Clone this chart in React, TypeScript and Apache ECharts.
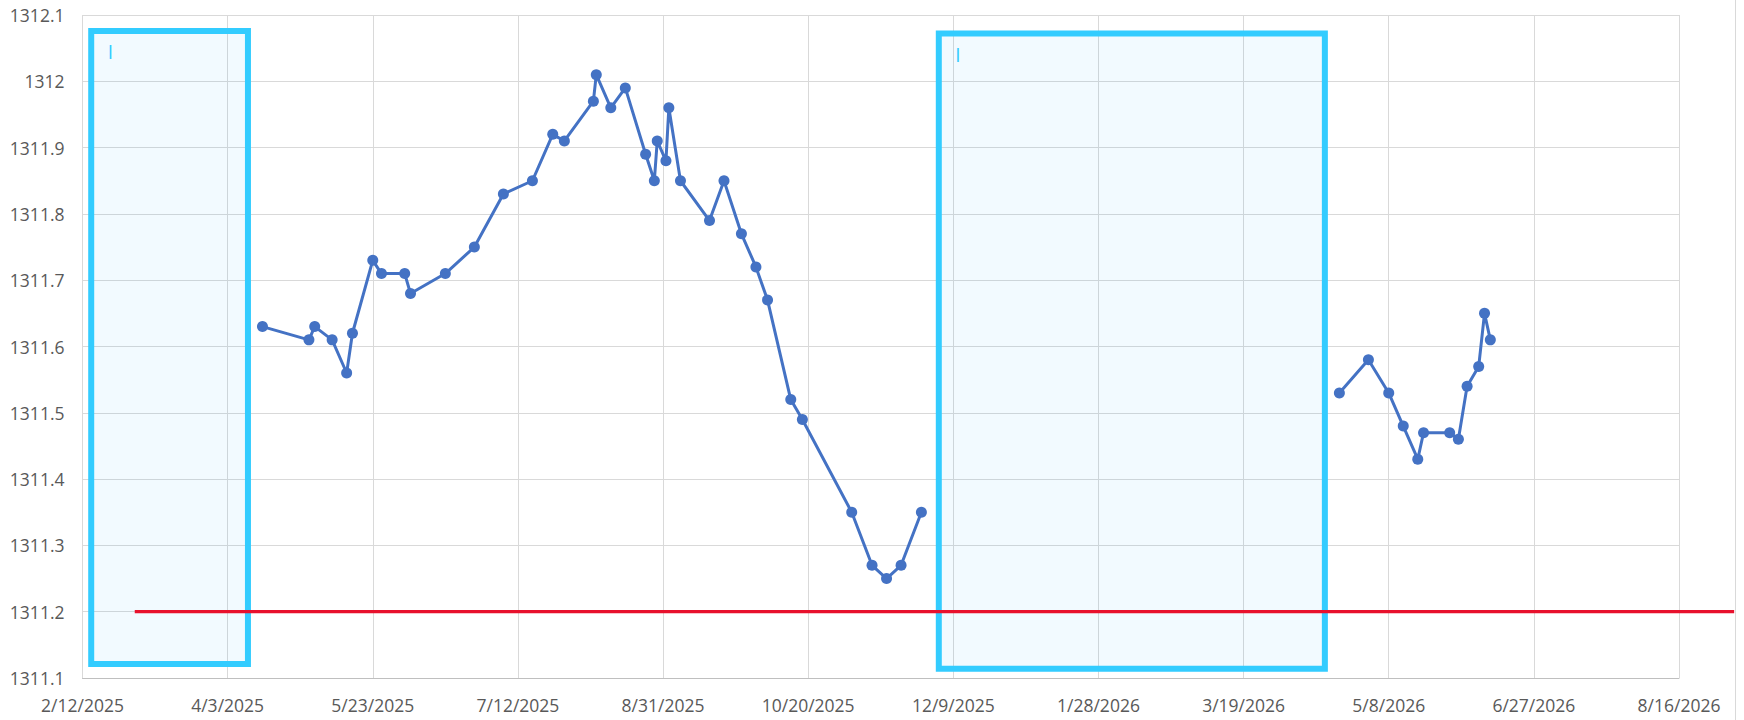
import React, { useEffect, useRef } from "react";
import * as echarts from "echarts";

// ---- axis definitions ----
const AXIS_START = "2025-02-12";
const X_TICK_DAYS = 50;
const X_SPAN_DAYS = 550;
const Y_MIN = 1311.1;
const Y_MAX = 1312.1;
const Y_STEP = 0.1;

// ---- measured series (null = gap) ----
const obsDates = [
  "2025-04-15", "2025-05-01", "2025-05-03", "2025-05-09", "2025-05-14", "2025-05-16",
  "2025-05-23", "2025-05-26", "2025-06-03", "2025-06-05", "2025-06-17", "2025-06-27",
  "2025-07-07", "2025-07-17", "2025-07-24", "2025-07-28", "2025-08-07", "2025-08-08",
  "2025-08-13", "2025-08-18", "2025-08-25", "2025-08-28", "2025-08-29", "2025-09-01",
  "2025-09-02", "2025-09-06", "2025-09-16", "2025-09-21", "2025-09-27", "2025-10-02",
  "2025-10-06", "2025-10-14", "2025-10-18", "2025-11-04", "2025-11-11", "2025-11-16",
  "2025-11-21", "2025-11-28",
  "2026-01-15",
  "2026-04-21", "2026-05-01", "2026-05-08", "2026-05-13", "2026-05-18", "2026-05-20",
  "2026-05-29", "2026-06-01", "2026-06-04", "2026-06-08", "2026-06-10", "2026-06-12",
];
const obsValues: (number | null)[] = [
  1311.63, 1311.61, 1311.63, 1311.61, 1311.56, 1311.62,
  1311.73, 1311.71, 1311.71, 1311.68, 1311.71, 1311.75,
  1311.83, 1311.85, 1311.92, 1311.91, 1311.97, 1312.01,
  1311.96, 1311.99, 1311.89, 1311.85, 1311.91, 1311.88,
  1311.96, 1311.85, 1311.79, 1311.85, 1311.77, 1311.72,
  1311.67, 1311.52, 1311.49, 1311.35, 1311.27, 1311.25,
  1311.27, 1311.35,
  null,
  1311.53, 1311.58, 1311.53, 1311.48, 1311.43, 1311.47,
  1311.47, 1311.46, 1311.54, 1311.57, 1311.65, 1311.61,
];

// ---- red reference level (runs past the plot edge) ----
const refDates = ["2025-03-02", "2026-09-04"];
const refValue = 1311.2;

// ---- highlighted periods ----
const boxStarts = ["2025-02-15", "2025-12-04"];
const boxEnds = ["2025-04-10", "2026-04-16"];
const boxTops = [1312.076, 1312.072];
const boxBottoms = [1311.121, 1311.114];

const FONT = "'Open Sans', 'Noto Sans', sans-serif";
const DAY_MS = 86400000;
const W = 1744;
const GRID_LEFT = 82.5;
const GRID_RIGHT = 65;

function toUTC(iso: string) {
  const [y, m, d] = iso.split("-").map(Number);
  return Date.UTC(y, m - 1, d);
}
const START_MS = toUTC(AXIS_START);
const dayOffset = (iso: string) => Math.round((toUTC(iso) - START_MS) / DAY_MS);
const fmtDay = (off: number) => {
  const d = new Date(START_MS + Math.round(off) * DAY_MS);
  return `${d.getUTCMonth() + 1}/${d.getUTCDate()}/${d.getUTCFullYear()}`;
};

export default function App() {
  const ref = useRef<HTMLDivElement>(null);

  useEffect(() => {
    if (!ref.current) return;
    const chart = echarts.init(ref.current, null, { renderer: "svg" });

    const obsData = obsDates.map((d, i) => [dayOffset(d), obsValues[i] == null ? "-" : obsValues[i]]);
    const refData = refDates.map((d) => [dayOffset(d), refValue]);
    const boxData = boxStarts.map((s, i) => [
      { xAxis: dayOffset(s), yAxis: boxTops[i] },
      { xAxis: dayOffset(boxEnds[i]), yAxis: boxBottoms[i] },
    ]);

    // overlay grid with identical day scale, extended to the reference line's end
    const plotW = W - GRID_LEFT - GRID_RIGHT;
    const pxPerDay = plotW / X_SPAN_DAYS;
    const refEnd = refData[refData.length - 1][0];
    const overlayRight = W - GRID_LEFT - refEnd * pxPerDay;

    const yBase = {
      type: "value",
      min: Y_MIN,
      max: Y_MAX,
      interval: Y_STEP,
    };

    chart.setOption({
      animation: false,
      backgroundColor: "#ffffff",
      grid: [
        { left: GRID_LEFT, right: GRID_RIGHT, top: 15, bottom: 42, containLabel: false, outerBoundsMode: "none" },
        { left: GRID_LEFT, right: overlayRight, top: 15, bottom: 42, containLabel: false, outerBoundsMode: "none" },
      ],
      xAxis: [
        {
          type: "value",
          gridIndex: 0,
          min: 0,
          max: X_SPAN_DAYS,
          interval: X_TICK_DAYS,
          axisLine: { show: true, lineStyle: { color: "#BFBFBF", width: 1 } },
          axisTick: { show: false },
          splitLine: { show: true, lineStyle: { color: "#D9D9D9", width: 1 } },
          axisLabel: {
            formatter: (v: number) => fmtDay(v),
            color: "#595959",
            fontSize: 17.5,
            fontFamily: FONT,
            margin: 18,
            showMinLabel: true,
            showMaxLabel: true,
          },
        },
        {
          type: "value",
          gridIndex: 1,
          min: 0,
          max: refEnd,
          show: false,
          splitLine: { show: false },
        },
      ],
      yAxis: [
        {
          ...yBase,
          gridIndex: 0,
          axisLine: { show: false },
          axisTick: { show: false },
          splitLine: { show: true, lineStyle: { color: "#D9D9D9", width: 1 } },
          axisLabel: {
            formatter: (v: number) => String(parseFloat(v.toFixed(1))),
            color: "#595959",
            fontSize: 17.5,
            fontFamily: FONT,
            margin: 18,
          },
        },
        { ...yBase, gridIndex: 1, show: false, splitLine: { show: false } },
      ],
      series: [
        {
          type: "line",
          xAxisIndex: 1,
          yAxisIndex: 1,
          data: refData,
          symbol: "none",
          lineStyle: { color: "#E8112D", width: 3.2 },
          silent: true,
          z: 2,
        },
        {
          type: "line",
          data: obsData,
          symbol: "circle",
          symbolSize: 11,
          connectNulls: false,
          lineStyle: { color: "#4472C4", width: 3 },
          itemStyle: { color: "#4472C4" },
          z: 3,
        },
        {
          type: "line",
          data: [],
          silent: true,
          z: 5,
          markArea: {
            silent: true,
            itemStyle: {
              color: "rgba(0,153,255,0.05)",
              borderColor: "#33CCFF",
              borderWidth: 6,
            },
            label: {
              show: true,
              position: "insideTopLeft",
              formatter: "|",
              color: "#33CCFF",
              fontSize: 15,
              fontWeight: "bold",
              fontFamily: FONT,
              offset: [13, 10],
            },
            data: boxData,
          },
        },
      ],
      graphic: [
        {
          type: "line",
          silent: true,
          shape: { x1: 1735.5, y1: 0, x2: 1735.5, y2: 720 },
          style: { stroke: "#D9D9D9", lineWidth: 1 },
        },
      ],
    });

    return () => chart.dispose();
  }, []);

  return (
    <div
      ref={ref}
      style={{ position: "fixed", left: 0, top: 0, width: 1744, height: 720, background: "#fff" }}
    />
  );
}
